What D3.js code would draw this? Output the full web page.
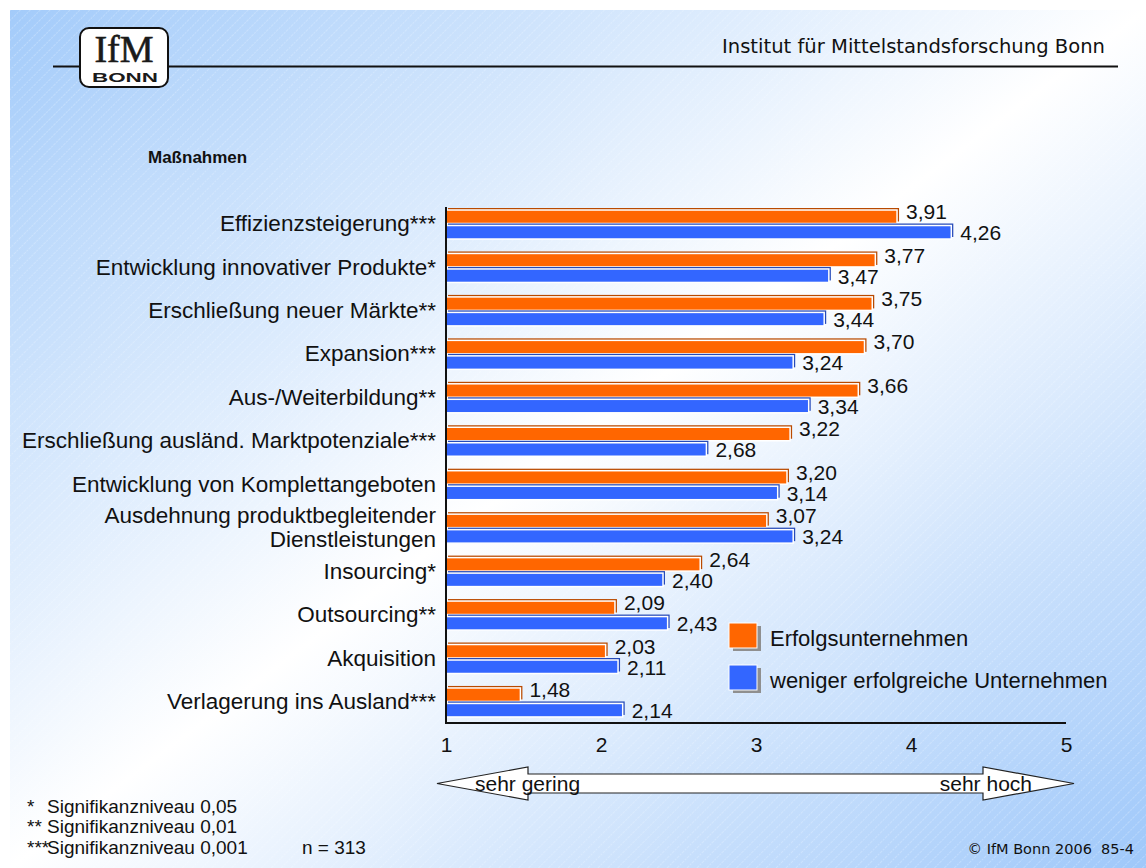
<!DOCTYPE html>
<html>
<head>
<meta charset="utf-8">
<script src="https://cdn.jsdelivr.net/npm/d3@7"></script>
<style>
  html, body { margin: 0; padding: 0; background: #fff; overflow: hidden; }
  svg { display: block; }
</style>
</head>
<body>
<svg id="chart" width="1146" height="868"></svg>
<script>
// Maßnahmen – mean ratings (1 = sehr gering … 5 = sehr hoch)
const categories = [
  "Effizienzsteigerung***",
  "Entwicklung innovativer Produkte*",
  "Erschließung neuer Märkte**",
  "Expansion***",
  "Aus-/Weiterbildung**",
  "Erschließung ausländ. Marktpotenziale***",
  "Entwicklung von Komplettangeboten",
  "Ausdehnung produktbegleitender\nDienstleistungen",
  "Insourcing*",
  "Outsourcing**",
  "Akquisition",
  "Verlagerung ins Ausland***"
];
const erfolgsUnternehmen = [3.91, 3.77, 3.75, 3.70, 3.66, 3.22, 3.20, 3.07, 2.64, 2.09, 2.03, 1.48];
const wenigerErfolgreiche = [4.26, 3.47, 3.44, 3.24, 3.34, 2.68, 3.14, 3.24, 2.40, 2.43, 2.11, 2.14];
const seriesNames = ["Erfolgsunternehmen", "weniger erfolgreiche Unternehmen"];
const xTicks = [1, 2, 3, 4, 5];
const scaleEnds = ["sehr gering", "sehr hoch"];
const footnoteMarks = ["*", "**", "***"];
const footnoteTexts = ["Signifikanzniveau 0,05", "Signifikanzniveau 0,01", "Signifikanzniveau 0,001"];
const sampleNote = "n = 313";
const chartTitle = "Maßnahmen";
const headerText = "Institut für Mittelstandsforschung Bonn";
const copyrightText = "© IfM Bonn 2006  85-4";

const seriesColors = ["#ff6600", "#3366ff"];
const FONT = "Arial, 'Liberation Sans', Helvetica, sans-serif";
const HEADER_FONT = "Tahoma, 'DejaVu Sans', Verdana, sans-serif";

const svg = d3.select("#chart");
const W = 1146, H = 868;

const deFormat = d3.formatLocale({ decimal: ",", thousands: ".", grouping: [3], currency: ["", " €"] }).format(".2f");

// ---------- background ----------
const defs = svg.append("defs");
const grad = defs.append("linearGradient")
  .attr("id", "bg").attr("x1", 0).attr("y1", 0).attr("x2", 1).attr("y2", 1);
grad.append("stop").attr("offset", 0).attr("stop-color", "#a3cbfa");
grad.append("stop").attr("offset", 0.5).attr("stop-color", "#ffffff");
grad.append("stop").attr("offset", 1).attr("stop-color", "#9fc8fa");

const hatch = defs.append("pattern")
  .attr("id", "hatch").attr("patternUnits", "userSpaceOnUse")
  .attr("width", 7).attr("height", 7)
  .attr("patternTransform", "rotate(45)");
hatch.append("line")
  .attr("x1", 0).attr("y1", 0).attr("x2", 0).attr("y2", 7)
  .attr("stroke", "#ffffff").attr("stroke-width", 1)
  .attr("stroke-dasharray", "2,1").attr("opacity", 0.45);

svg.append("rect").attr("x", 10).attr("y", 10).attr("width", W - 10).attr("height", H - 10)
  .attr("fill", "url(#bg)");
svg.append("rect").attr("x", 10).attr("y", 10).attr("width", W - 10).attr("height", H - 10)
  .attr("fill", "url(#hatch)");

// ---------- header ----------
svg.append("line")
  .attr("x1", 53).attr("x2", 1118).attr("y1", 66.5).attr("y2", 66.5)
  .attr("stroke", "#111").attr("stroke-width", 2);

const logo = svg.append("g");
logo.append("rect")
  .attr("x", 80).attr("y", 28).attr("width", 88).attr("height", 59).attr("rx", 9)
  .attr("fill", "#fff").attr("stroke", "#111").attr("stroke-width", 2);
logo.append("text")
  .attr("x", 124).attr("y", 62).attr("text-anchor", "middle")
  .attr("font-family", "'Liberation Serif', 'Times New Roman', serif")
  .attr("font-size", 38).attr("fill", "#1a1a1a")
  .attr("stroke", "#1a1a1a").attr("stroke-width", 0.6)
  .text("IfM");
logo.append("text")
  .attr("x", 92).attr("y", 82)
  .attr("textLength", 66).attr("lengthAdjust", "spacingAndGlyphs")
  .attr("font-family", FONT).attr("font-weight", "bold")
  .attr("font-size", 13).attr("fill", "#1a1a1a")
  .text("BONN");

svg.append("text")
  .attr("x", 722).attr("y", 53)
  .attr("textLength", 383).attr("lengthAdjust", "spacingAndGlyphs")
  .attr("font-family", HEADER_FONT).attr("font-size", 19).attr("fill", "#111")
  .text(headerText);

// ---------- title ----------
svg.append("text")
  .attr("x", 148).attr("y", 163)
  .attr("font-family", FONT).attr("font-weight", "bold").attr("font-size", 17)
  .attr("fill", "#111").text(chartTitle);

// ---------- scales ----------
const plotTop = 207, plotBottom = 723;
const x = d3.scaleLinear().domain([1, 5]).range([446, 1066]);
const y = d3.scaleBand().domain(categories).range([plotTop, plotTop + 12 * 43.45]);
const barH = 13.5;

const rows = categories.map((c, i) => ({
  cat: c,
  values: [erfolgsUnternehmen[i], wenigerErfolgreiche[i]]
}));
const barOffset = [3, 18.5];

// ---------- bars ----------
const barG = svg.append("g");
rows.forEach(r => {
  r.values.forEach((v, s) => {
    const y0 = y(r.cat) + barOffset[s];
    const col = seriesColors[s];
    // offset shadow gives the slight 3D edge
    barG.append("rect")
      .attr("x", x(1) + 2).attr("y", y0 - 2)
      .attr("width", x(v) - x(1)).attr("height", barH)
      .attr("fill", d3.color(col).darker(0.9));
    barG.append("rect")
      .attr("x", x(1)).attr("y", y0)
      .attr("width", x(v) - x(1)).attr("height", barH)
      .attr("fill", col).attr("stroke", "#ffffff").attr("stroke-width", 1.5);
  });
});

// ---------- value labels ----------
const labelG = svg.append("g")
  .attr("font-family", FONT).attr("font-size", 21).attr("fill", "#111");
rows.forEach(r => {
  r.values.forEach((v, s) => {
    const cy = s === 0 ? y(r.cat) + 4.5 : y(r.cat) + 25.5;
    labelG.append("text")
      .attr("x", x(v) + 9).attr("y", cy).attr("dy", "0.36em")
      .text(deFormat(v));
  });
});

// ---------- axes ----------
svg.append("line")
  .attr("x1", x(1)).attr("x2", x(1)).attr("y1", plotTop).attr("y2", plotBottom + 1)
  .attr("stroke", "#111").attr("stroke-width", 2);
svg.append("line")
  .attr("x1", x(1)).attr("x2", x(5)).attr("y1", plotBottom).attr("y2", plotBottom)
  .attr("stroke", "#111").attr("stroke-width", 2);

const xAxis = svg.append("g")
  .attr("transform", `translate(0,${plotBottom})`)
  .call(d3.axisBottom(x).tickValues(xTicks).tickSize(0).tickPadding(14).tickFormat(d3.format("d")));
xAxis.select(".domain").remove();
xAxis.selectAll("text")
  .attr("font-family", FONT).attr("font-size", 21).attr("fill", "#111");

// category labels
const catG = svg.append("g")
  .attr("font-family", FONT).attr("font-size", 22.5).attr("fill", "#111")
  .attr("text-anchor", "end");
categories.forEach(c => {
  const lines = c.split("\n");
  const cy = y(c) + 16;
  const t = catG.append("text").attr("x", 436).attr("y", cy);
  lines.forEach((ln, i) => {
    t.append("tspan")
      .attr("x", 436)
      .attr("y", cy + (i - (lines.length - 1) / 2) * 24)
      .attr("dy", "0.36em")
      .text(ln);
  });
});

// ---------- legend ----------
const legend = svg.append("g");
seriesNames.forEach((name, i) => {
  const ly = 623 + i * 42;
  legend.append("rect")
    .attr("x", 733).attr("y", ly + 3).attr("width", 28).attr("height", 25)
    .attr("fill", "#8f8f8f");
  legend.append("rect")
    .attr("x", 729).attr("y", ly).attr("width", 28).attr("height", 25)
    .attr("fill", seriesColors[i]).attr("stroke", "#fff").attr("stroke-width", 1);
  legend.append("text")
    .attr("x", 770).attr("y", ly + 15).attr("dy", "0.36em")
    .attr("font-family", FONT).attr("font-size", 22).attr("fill", "#111")
    .text(name);
});

// ---------- scale arrow ----------
const aL = 437, aR = 1074, aHeadL = 528, aHeadR = 983, aMid = 783.5;
const arrowPts = [
  [aL, aMid], [aHeadL, aMid - 16.5], [aHeadL, aMid - 9.5], [aHeadR, aMid - 9.5],
  [aHeadR, aMid - 16.5], [aR, aMid], [aHeadR, aMid + 16.5], [aHeadR, aMid + 9.5],
  [aHeadL, aMid + 9.5], [aHeadL, aMid + 16.5]
];
svg.append("path")
  .attr("d", d3.line()(arrowPts) + "Z")
  .attr("fill", "#fff").attr("stroke", "#222").attr("stroke-width", 1.2);
svg.append("text")
  .attr("x", 475).attr("y", aMid).attr("dy", "0.36em")
  .attr("font-family", FONT).attr("font-size", 21).attr("fill", "#111")
  .text(scaleEnds[0]);
svg.append("text")
  .attr("x", 1032).attr("y", aMid).attr("dy", "0.36em").attr("text-anchor", "end")
  .attr("font-family", FONT).attr("font-size", 21).attr("fill", "#111")
  .text(scaleEnds[1]);

// ---------- footnotes ----------
const foot = svg.append("g").attr("font-family", FONT).attr("font-size", 19).attr("fill", "#111");
footnoteTexts.forEach((t, i) => {
  const fy = 806 + i * 20.5;
  foot.append("text").attr("x", 27).attr("y", fy).attr("dy", "0.36em").text(footnoteMarks[i]);
  foot.append("text").attr("x", 47).attr("y", fy).attr("dy", "0.36em").text(t);
});
foot.append("text").attr("x", 302).attr("y", 847).attr("dy", "0.36em").text(sampleNote);

svg.append("text")
  .attr("x", 1134).attr("y", 849).attr("dy", "0.36em")
  .attr("text-anchor", "end")
  .attr("xml:space", "preserve")
  .attr("font-family", HEADER_FONT).attr("font-size", 14.5).attr("fill", "#111")
  .text(copyrightText);
</script>
</body>
</html>
